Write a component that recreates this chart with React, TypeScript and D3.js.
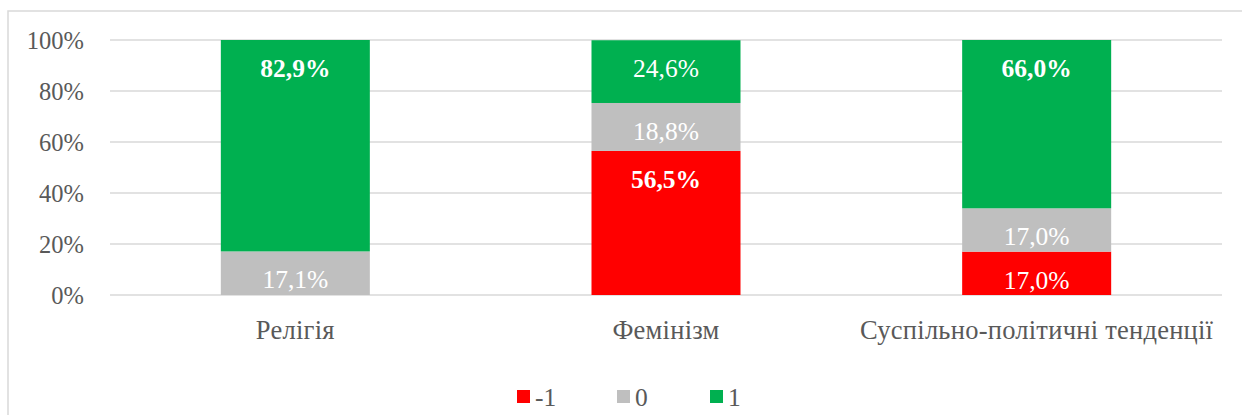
import React from "react";
import * as d3 from "d3";

const categories = ["Релігія", "Фемінізм", "Суспільно-політичні тенденції"];
const seriesNames = ["-1", "0", "1"];
const seriesColors = ["#ff0000", "#bfbfbf", "#00b050"];
const valuesMinus1 = [0, 56.5, 17.0];
const values0 = [17.1, 18.8, 17.0];
const values1 = [82.9, 24.6, 66.0];
const boldLabels = [
  [false, true, false],
  [false, false, false],
  [true, false, true],
];
const yTicks = [0, 20, 40, 60, 80, 100];

const W = 1242;
const H = 415;
const FONT = "'Liberation Serif', 'Times New Roman', serif";

export default function App() {
  const x = d3
    .scaleBand<string>()
    .domain(categories)
    .range([110, 1222])
    .paddingInner(0.598)
    .paddingOuter(0.299);
  const y = d3.scaleLinear().domain([0, 100]).range([295, 40]);
  const series = [valuesMinus1, values0, values1];
  const fmt = (v: number) => v.toFixed(1).replace(".", ",") + "%";

  const segs: any[] = [];
  categories.forEach((c, ci) => {
    let base = 0;
    series.forEach((vals, si) => {
      const v = vals[ci];
      const y0 = base;
      const y1 = base + v;
      base = y1;
      if (v <= 0) return;
      segs.push({ c, ci, si, v, y0, y1 });
    });
  });

  const legendX = [517, 617, 710];

  return (
    <svg
      width={W}
      height={H}
      style={{ position: "absolute", left: 0, top: 0, background: "#fff" }}
      fontFamily={FONT}
    >
      <rect x={8} y={11} width={1250} height={420} fill="#fff" stroke="#d9d9d9" strokeWidth={1.5} />
      {yTicks.map((t) => (
        <g key={t}>
          <line x1={110} x2={1222} y1={y(t)} y2={y(t)} stroke="#d9d9d9" strokeWidth={1.5} />
          <text x={84} y={y(t) + 8.5} textAnchor="end" fontSize={24.5} fill="#595959">
            {t}%
          </text>
        </g>
      ))}
      {segs.map((s) => {
        const top = y(Math.min(s.y1, 100));
        const bot = y(s.y0);
        return (
          <g key={s.ci + "-" + s.si}>
            <rect
              x={x(s.c)}
              y={top}
              width={x.bandwidth()}
              height={bot - top}
              fill={seriesColors[s.si]}
            />
            <text
              x={(x(s.c) as number) + x.bandwidth() / 2}
              y={top + 37}
              textAnchor="middle"
              fontSize={25.5}
              fill="#ffffff"
              fontWeight={boldLabels[s.si][s.ci] ? "bold" : "normal"}
            >
              {fmt(s.v)}
            </text>
          </g>
        );
      })}
      {categories.map((c) => (
        <text
          key={c}
          x={(x(c) as number) + x.bandwidth() / 2}
          y={339}
          textAnchor="middle"
          fontSize={26.5}
          letterSpacing={0.25}
          fill="#595959"
        >
          {c}
        </text>
      ))}
      {seriesNames.map((n, i) => (
        <g key={n}>
          <rect x={legendX[i]} y={390} width={13} height={13} fill={seriesColors[i]} />
          <text x={legendX[i] + 18} y={406} fontSize={25.5} fill="#595959">
            {n}
          </text>
        </g>
      ))}
    </svg>
  );
}
